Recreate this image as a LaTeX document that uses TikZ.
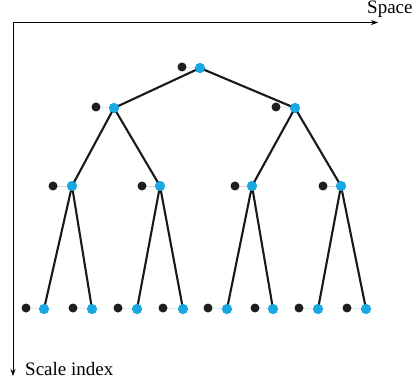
\documentclass[tikz,border=0pt]{standalone}
\usepackage{fontspec}
\setmainfont{Liberation Serif}
\usetikzlibrary{arrows.meta}
\definecolor{nodeblue}{RGB}{25,168,225}
\begin{document}
\begin{tikzpicture}[x=1pt,y=-1pt,
  bdot/.style={circle,fill=black!88,inner sep=0pt,minimum size=9pt},
  cdot/.style={circle,fill=nodeblue,inner sep=0pt,minimum size=10pt},
  edge/.style={line width=2.1pt,black!90},
  pair/.style={line width=0.4pt,black!15},
  axis/.style={line width=0.6pt,-{Stealth[length=7pt,width=5pt]}},
  lbl/.style={font=\fontsize{19}{21}\selectfont,inner sep=0pt}]
\useasboundingbox (0,0) rectangle (417,387);
% axes
\coordinate (o) at (13,22.5);
\coordinate (xe) at (378,22.5);
\coordinate (ye) at (13,376);
\draw[axis] (o) -- (xe);
\draw[axis] (o) -- (ye);
\node[lbl,anchor=base west] (space) at (367,14) {Space};
\node[lbl,anchor=west] (scale) at (25,369) {Scale index};
% level 0
\node[cdot] (n) at (200,68) {};
\node[bdot] (k) at (182,67) {};
% level 1
\node[cdot] (n0) at (114,108) {};
\node[bdot] (k0) at (96,107) {};
\node[cdot] (n1) at (295,108) {};
\node[bdot] (k1) at (276,107) {};
% level 2
\node[cdot] (n00) at (72,186) {};
\node[bdot] (k00) at (53,186) {};
\node[cdot] (n01) at (160,186) {};
\node[bdot] (k01) at (142,186) {};
\node[cdot] (n10) at (252,186) {};
\node[bdot] (k10) at (235,186) {};
\node[cdot] (n11) at (341,186) {};
\node[bdot] (k11) at (323,186) {};
% level 3
\foreach \i/\bx/\kx in {1/44/26,2/92/73,3/137/118,4/183/163,5/227/208,6/273/255,7/318/299,8/366/347}{
  \node[cdot] (m\i) at (\bx,309) {};
  \node[bdot] (q\i) at (\kx,308) {};
}
% faint pair links
\foreach \a/\b in {k/n,k0/n0,k1/n1,k00/n00,k01/n01,k10/n10,k11/n11,q1/m1,q2/m2,q3/m3,q4/m4,q5/m5,q6/m6,q7/m7,q8/m8}{
  \draw[pair] (\a) -- (\b);
}
% tree edges
\draw[edge] (n.center) -- (n0.center);
\draw[edge] (n.center) -- (n1.center);
\draw[edge] (n0.center) -- (n00.center);
\draw[edge] (n0.center) -- (n01.center);
\draw[edge] (n1.center) -- (n10.center);
\draw[edge] (n1.center) -- (n11.center);
\draw[edge] (n00.center) -- (m1.center);
\draw[edge] (n00.center) -- (m2.center);
\draw[edge] (n01.center) -- (m3.center);
\draw[edge] (n01.center) -- (m4.center);
\draw[edge] (n10.center) -- (m5.center);
\draw[edge] (n10.center) -- (m6.center);
\draw[edge] (n11.center) -- (m7.center);
\draw[edge] (n11.center) -- (m8.center);
% blue dots on top of the edges
\foreach \p in {n,n0,n1,n00,n01,n10,n11,m1,m2,m3,m4,m5,m6,m7,m8}{
  \fill[nodeblue] (\p) circle (5pt);
}
\end{tikzpicture}
\end{document}
